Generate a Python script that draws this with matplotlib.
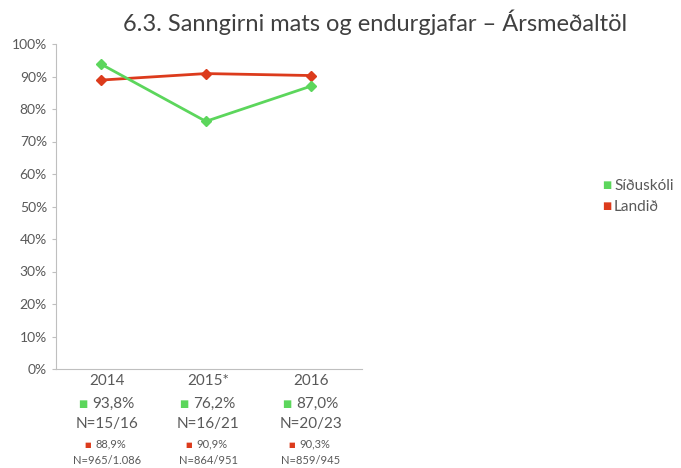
import matplotlib.pyplot as plt
from matplotlib.ticker import FuncFormatter

plt.rcParams['font.family'] = ['Lato', 'DejaVu Sans']

years = ['2014', '2015*', '2016']
sidu = [93.8, 76.2, 87.0]
landid = [88.9, 90.9, 90.3]
sidu_n = ['N=15/16', 'N=16/21', 'N=20/23']
landid_n = ['N=965/1.086', 'N=864/951', 'N=859/945']

green = '#5cd65c'
red = '#dc3b1c'
grey = '#595959'

W, H = 681, 468
fig = plt.figure(figsize=(W / 100, H / 100), dpi=100)
ax = fig.add_axes([56/W, 99/H, 306/W, 325/H])

x = range(len(years))
ax.plot(x, landid, color=red, lw=2, marker='D', ms=5, label='Landið', zorder=3)
ax.plot(x, sidu, color=green, lw=2, marker='D', ms=5, label='Síðuskóli', zorder=3)

ax.set_ylim(0, 100)
ax.set_xlim(-0.43, 2.49)
ax.set_yticks(range(0, 101, 10))
ax.yaxis.set_major_formatter(FuncFormatter(lambda v, p: f'{int(v)}%'))
ax.tick_params(axis='y', labelsize=10, colors=grey, length=3, color='#bfbfbf')
ax.set_xticks([])
for s in ['top', 'right']:
    ax.spines[s].set_visible(False)
ax.spines['left'].set_color('#bfbfbf')
ax.spines['bottom'].set_color('#bfbfbf')

def fx(px):
    return px / W

def fy(py):
    return 1 - py / H

# category labels under the axis (column centres in pixels)
cols = [107, 208, 311]
for i, cx in enumerate(cols):
    fig.text(fx(cx), fy(381), years[i], ha='center', va='center', fontsize=11, color=grey)
    fig.text(fx(cx - 24), fy(404), '■', ha='center', va='center', fontsize=7, color=green)
    fig.text(fx(cx + 6), fy(404), f'{sidu[i]:.1f}%'.replace('.', ','), ha='center', va='center', fontsize=11, color=grey)
    fig.text(fx(cx), fy(424), sidu_n[i], ha='center', va='center', fontsize=11, color=grey)
    fig.text(fx(cx - 19), fy(444), '■', ha='center', va='center', fontsize=5, color=red)
    fig.text(fx(cx + 4), fy(444), f'{landid[i]:.1f}%'.replace('.', ','), ha='center', va='center', fontsize=8, color=grey)
    fig.text(fx(cx), fy(461), landid_n[i], ha='center', va='center', fontsize=8, color=grey)

fig.text(fx(375), fy(22), '6.3. Sanngirni mats og endurgjafar – Ársmeðaltöl',
         ha='center', va='center', fontsize=17, color='#404040')

# legend
fig.text(fx(607), fy(186), '■', ha='center', va='center', fontsize=7, color=green)
fig.text(fx(614), fy(186), 'Síðuskóli', ha='left', va='center', fontsize=11, color=grey)
fig.text(fx(607), fy(207), '■', ha='center', va='center', fontsize=7, color=red)
fig.text(fx(614), fy(207), 'Landið', ha='left', va='center', fontsize=11, color=grey)

fig.savefig('out.png', dpi=100)
